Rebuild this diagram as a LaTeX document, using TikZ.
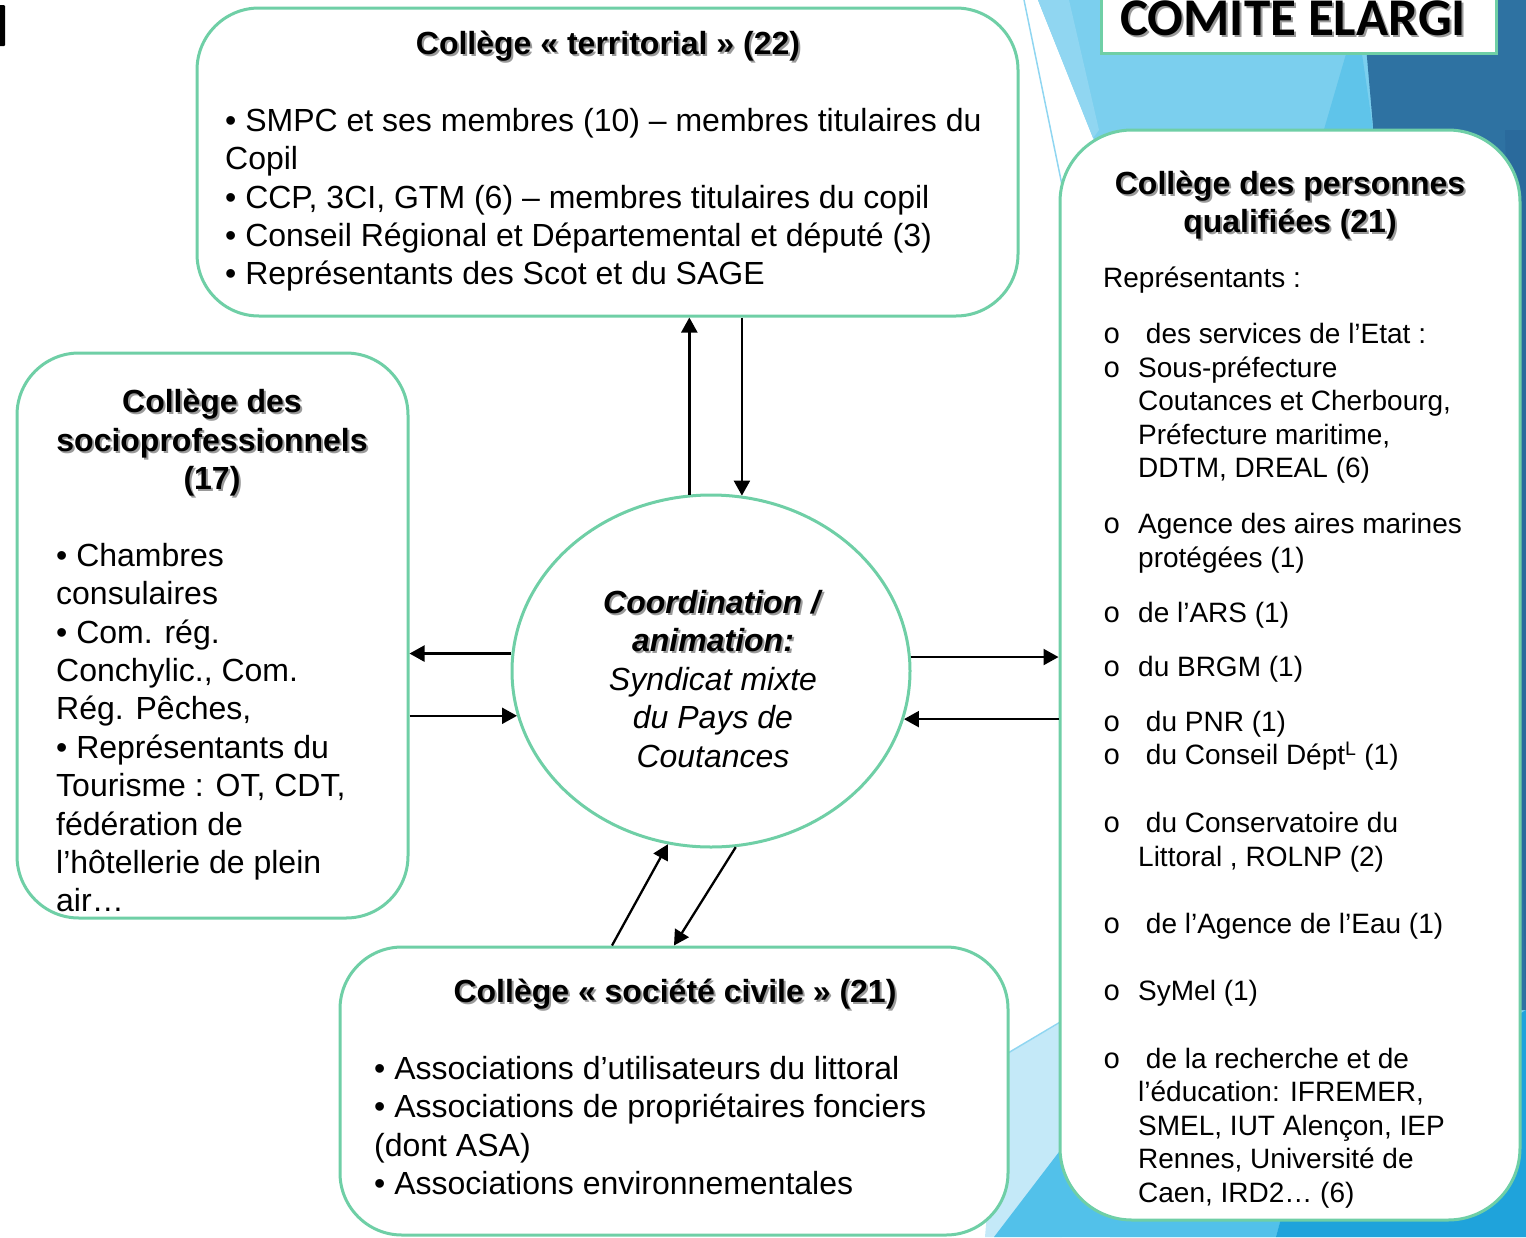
\documentclass[tikz,border=0pt]{standalone}
\usepackage{fontspec}
\setmainfont{Liberation Sans}
\newfontfamily\monofont{Liberation Mono}
\newfontfamily\capfont{Carlito}
\usetikzlibrary{arrows.meta,positioning,shapes.geometric,calc}
\definecolor{mint}{HTML}{6FCFA6}
\definecolor{skylight}{HTML}{90D6F1}
\definecolor{skymid}{HTML}{7BCFEE}
\definecolor{skybright}{HTML}{5FC4EA}
\definecolor{navy}{HTML}{2E72A2}
\definecolor{navydeep}{HTML}{2A6A9C}
\definecolor{icepale}{HTML}{C4E9F8}
\definecolor{aqua}{HTML}{52C1EA}
\definecolor{aquadeep}{HTML}{1FA3DB}
\definecolor{shadowgray}{HTML}{9A9A9A}
\newcommand{\shd}[1]{\makebox[0pt][l]{\raisebox{-2pt}{\hspace{2pt}\textcolor{shadowgray}{#1}}}#1}
\newcommand{\bul}{\makebox[35pt][l]{\fontsize{29}{29}\monofont o}}
\newcommand{\ind}{\hspace*{35pt}}

\begin{document}
\begin{tikzpicture}[
  x=1pt, y=-1pt,
  every node/.style={inner sep=0pt},
  college/.style={draw=mint, line width=3pt, rounded corners=62pt, fill=white},
  ttl/.style={font=\fontsize{32}{38.5}\selectfont\bfseries, align=center},
  body/.style={font=\fontsize{32}{38.4}\selectfont, align=left, anchor=north west},
  qbody/.style={font=\fontsize{28}{33.5}\selectfont, align=left, anchor=north west},
  flow/.style={-{Triangle[length=15pt,width=16pt]}, line width=2.3pt},
]
\useasboundingbox (0,0) rectangle (1526,1237);
\clip (0,0) rectangle (1526,1237);

% Background facets
\fill[skymid] (1038,0) -- (1526,0) -- (1526,1237) -- (1110,1237) -- (1102,160) -- cycle;
\fill[skylight] (1038,0) -- (1069,0) -- (1099,130) -- (1093,138) -- cycle;
\fill[skybright] (1346,54) -- (1362,54) -- (1376,150) -- (1318,150) -- cycle;
\fill[navy] (1362,0) -- (1526,0) -- (1526,1010) -- (1450,1010) -- cycle;
\fill[navydeep] (1505,130) -- (1526,130) -- (1526,1010) -- cycle;
\fill[icepale] (1000,1058) -- (1062,1022) -- (1062,1237) -- (985,1237) -- cycle;
\fill[aqua] (994,1237) -- (1062,1148) -- (1300,1148) -- (1276,1237) -- cycle;
\fill[aquadeep] (1276,1237) -- (1300,1148) -- (1526,1010) -- (1526,1237) -- cycle;
\draw[skylight, line width=1.5pt] (1024,0) -- (1062,185);
\draw[skylight, line width=1.5pt] (1008,1053) -- (1062,1021);

% Cut title
\fill[black, rounded corners=1pt] (-3,5) rectangle (5,46);
\node[college, rounded corners=0pt, minimum width=395pt, minimum height=80pt] (comite) at (1298.5,13) {};
\node[font=\capfont\fontsize{53}{53}\selectfont\bfseries, anchor=base] (comitetxt) at (1293,35) {\shd{COMITE ELARGI}};

% Colleges
\node[college, minimum width=821pt, minimum height=308pt] (terr) at (607.5,162) {};
\node[college, minimum width=391pt, minimum height=565pt] (socio) at (212.5,635.5) {};
\node[college, minimum width=668pt, minimum height=288pt] (civil) at (674,1091) {};
\node[college, rounded corners=72pt, minimum width=460pt, minimum height=1090pt] (qual) at (1290,675) {};
\node[ellipse, draw=mint, line width=3pt, fill=white, minimum width=398pt, minimum height=352pt] (hub) at (711,671) {};

% Territorial
\node[ttl] (terrttl) at (608,47) {\shd{Collège « territorial » (22)}};
\node[body] (terrbody) at (225,108) {• SMPC et ses membres (10) – membres titulaires du\\
  Copil\\
  • CCP, 3CI, GTM (6) – membres titulaires du copil\\
  • Conseil Régional et Départemental et député (3)\\
  • Représentants des Scot et du SAGE};

% Socioprofessionnels
\node[ttl] (socittl) at (212,444) {\shd{Collège des}\\\shd{socioprofessionnels}\\\shd{(17)}};
\node[body] (socibody) at (56,543) {• Chambres\\
  consulaires\\
  • Com. rég.\\
  Conchylic., Com.\\
  Rég. Pêches,\\
  • Représentants du\\
  Tourisme : OT, CDT,\\
  fédération de\\
  l’hôtellerie de plein\\
  air…};

% Societe civile
\node[ttl] (civilttl) at (675,995) {\shd{Collège « société civile » (21)}};
\node[body] (civilbody) at (374,1056) {• Associations d’utilisateurs du littoral\\
  • Associations de propriétaires fonciers\\
  (dont ASA)\\
  • Associations environnementales};

% Personnes qualifiees
\node[ttl] (qualttl) at (1290,206) {\shd{Collège des personnes}\\\shd{qualifiées (21)}};
\node[qbody] (qualbody) at (1103,267) {Représentants :\\[22.5pt]
  \bul\ des services de l’Etat :\\
  \bul Sous-préfecture\\
  \ind Coutances et Cherbourg,\\
  \ind Préfecture maritime,\\
  \ind DDTM, DREAL (6)\\[22.5pt]
  \bul Agence des aires marines\\
  \ind protégées (1)\\[21.5pt]
  \bul de l’ARS (1)\\[20.5pt]
  \bul du BRGM (1)\\[21.5pt]
  \bul\ du PNR (1)\\
  \bul\ du Conseil Dépt\textsuperscript{L} (1)\\[34.5pt]
  \bul\ du Conservatoire du\\
  \ind Littoral , ROLNP (2)\\[33.5pt]
  \bul\ de l’Agence de l’Eau (1)\\[33.5pt]
  \bul SyMel (1)\\[34.5pt]
  \bul\ de la recherche et de\\
  \ind l’éducation: IFREMER,\\
  \ind SMEL, IUT Alençon, IEP\\
  \ind Rennes, Université de\\
  \ind Caen, IRD2… (6)};

% Coordination
\node[font=\fontsize{32}{38.5}\selectfont, align=center] (hubtxt) at (713,679) {\textbf{\textit{\shd{Coordination /}}}\\
  \textbf{\textit{\shd{animation:}}}\\
  \textit{Syndicat mixte}\\
  \textit{du Pays de}\\
  \textit{Coutances}};

% Arrows
\draw[flow] (hub.97.5) -- (hub.97.5 |- terr.south);
\draw[flow] (hub.80 |- terr.south) -- (hub.80);
\draw[flow] (hub.175.4) -- (hub.175.4 -| socio.east);
\draw[flow] (hub.193.8 -| socio.east) -- (hub.193.8);
\draw[flow] (hub.4.6) -- (hub.4.6 -| qual.west);
\draw[flow] (hub.346.2 -| qual.west) -- (hub.346.2);
\draw[flow] ($(civil.north)+(-62,0)$) -- (hub.256);
\draw[flow] (hub.278.5) -- (civil.north);

\end{tikzpicture}
\end{document}
